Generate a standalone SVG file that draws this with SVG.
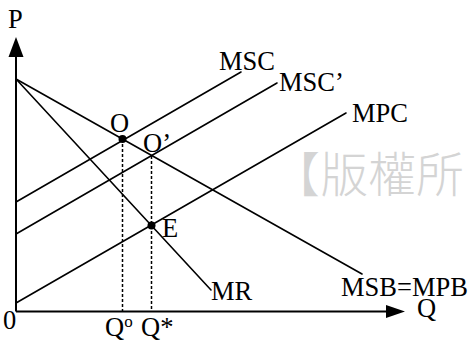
<svg xmlns="http://www.w3.org/2000/svg" width="473" height="341" viewBox="0 0 473 341">
<style>
.t{font-family:"Liberation Serif","Times New Roman",serif;font-size:26.5px;fill:#000}
.c{stroke:#000;stroke-width:1.6;fill:none;stroke-linecap:round}
.ax{stroke:#000;stroke-width:2;fill:none}
.d{stroke:#000;stroke-width:1.5;fill:none;stroke-dasharray:3 2}
.wm{font-family:"Noto Sans CJK TC","Noto Sans CJK SC",sans-serif;font-size:48px;fill:#d4d4d4;font-weight:300}
</style>
<rect width="473" height="341" fill="#fff"/>
<text class="wm" x="272" y="192">【版權所</text>
<g id="axes">
<line class="ax" x1="16" y1="311.5" x2="16" y2="50"/>
<polygon points="16,37 8.5,57 23.5,57" fill="#000"/>
<line class="ax" x1="16" y1="311.5" x2="390" y2="311.5"/>
<polygon points="405,311.5 386,305 386,318" fill="#000"/>
<text class="t" x="8" y="28">P</text>
<text class="t" x="417" y="317">Q</text>
<text class="t" x="3" y="329">0</text>
</g>
<g id="connectors">
<line class="c" x1="16" y1="79" x2="362" y2="274"/>
<line class="c" x1="16" y1="79" x2="211" y2="290"/>
<line class="c" x1="16" y1="202" x2="241" y2="72"/>
<line class="c" x1="16" y1="234" x2="277" y2="83"/>
<line class="c" x1="16" y1="303" x2="346" y2="113"/>
<line class="d" x1="122.5" y1="139" x2="122.5" y2="311"/>
<line class="d" x1="151.5" y1="156" x2="151.5" y2="311"/>
</g>
<g id="MSB"><text class="t" x="341" y="296">MSB=MPB</text></g>
<g id="MR"><text class="t" x="211" y="300">MR</text></g>
<g id="MSC"><text class="t" x="219" y="70">MSC</text></g>
<g id="MSC2"><text class="t" x="279" y="91">MSC’</text></g>
<g id="MPC"><text class="t" x="352" y="122">MPC</text></g>
<g id="O"><circle cx="122.5" cy="139" r="4"/><text class="t" x="110" y="132">O</text></g>
<g id="O2"><text class="t" x="143" y="152">O’</text></g>
<g id="E"><circle cx="151.5" cy="225.5" r="4"/><text class="t" x="162" y="237">E</text></g>
<g id="Qo"><text class="t" x="105" y="335.5">Q<tspan font-size="17" dy="-8.5">o</tspan></text></g>
<g id="Qs"><text class="t" x="141" y="335.5">Q*</text></g>
</svg>
